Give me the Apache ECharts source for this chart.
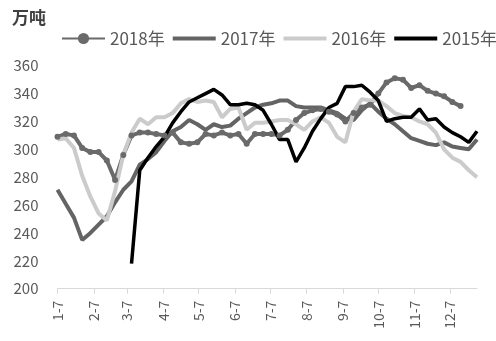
<!DOCTYPE html>
<html>
<head>
<meta charset="utf-8">
<script src="https://cdn.jsdelivr.net/npm/echarts@6/dist/echarts.min.js"></script>
<style>
html,body{margin:0;padding:0;background:#fff;}
#chart{width:496px;height:341px;}
</style>
</head>
<body>
<div id="chart"></div>
<script>
// Weekly readings, week 1 falls on 1-7 (day-of-year 7)
const seriesNames = ['2018年', '2017年', '2016年', '2015年'];
const unitLabel = '万吨';

const v2018 = [309, 311, 310, 301, 298, 298, 292, 278, 296, 310, 312, 312, 311, 310, 312, 305,
  304, 305, 311, 310, 312, 310, 311, 304, 311, 311, 311, 310, 314, 321, 326, 328,
  329, 327, 325, 320, 326, 330, 332, 340, 348, 351, 350, 344, 346, 342, 340, 338,
  334, 331, null, null];
const v2017 = [271, 261, 251, 235, 240, 246, 252, 262, 271, 277, 289, 293, 298, 306, 313, 316,
  321, 318, 314, 318, 316, 317, 322, 326, 330, 332, 333, 335, 335, 331, 330, 330,
  330, 328, 326, 322, 321, 328, 333, 327, 322, 318, 313, 308, 306, 304, 303, 305,
  302, 301, 300, 307];
const v2016 = [307, 308, 301, 281, 266, 254, 249, 270, 296, 312, 322, 318, 323, 323, 326, 333,
  336, 334, 335, 334, 323, 329, 330, 314, 319, 319, 320, 321, 321, 318, 314, 320,
  323, 319, 309, 305, 327, 336, 335, 335, 331, 326, 324, 323, 320, 318, 312, 300,
  294, 291, 285, 280];
const v2015 = [null, null, null, null, null, null, null, null, null, 218, 285, 294, 302, 309, 319, 327,
  334, 337, 340, 343, 339, 332, 332, 333, 332, 328, 318, 307, 307, 291, 301, 313,
  322, 330, 333, 345, 345, 346, 341, 335, 320, 322, 323, 323, 329, 321, 322, 316,
  312, 309, 305, 313];

// Month labels sit on the 7th of each month (day-of-year, non-leap)
const monthTickDays = [7, 38, 66, 97, 127, 158, 188, 219, 250, 280, 311, 341];
const monthTickLabels = ['1-7', '2-7', '3-7', '4-7', '5-7', '6-7', '7-7', '8-7', '9-7', '10-7', '11-7', '12-7'];

const yTicks = { min: 200, max: 360, step: 20 };

function toPoints(values) {
  return values.map((v, i) => [7 + 7 * i, v]);
}

const font = '"Noto Sans CJK SC", "Noto Sans", sans-serif';
const colors = ['#6a6a6a', '#646464', '#cbcbcb', '#000000'];
// plain bar used as the legend swatch for the unmarked lines
const barIcon = 'path://M0,0 L43,0 L43,4 L0,4 Z';

const chart = echarts.init(document.getElementById('chart'), null, { renderer: 'canvas' });

chart.setOption({
  animation: false,
  backgroundColor: '#ffffff',
  color: colors,
  title: {
    text: unitLabel,
    left: 7,
    top: 4,
    textStyle: { fontFamily: font, fontSize: 17, fontWeight: 'bold', color: '#3f3f3f' }
  },
  legend: {
    data: [
      { name: seriesNames[0] },
      { name: seriesNames[1], icon: barIcon },
      { name: seriesNames[2], icon: barIcon },
      { name: seriesNames[3], icon: barIcon }
    ],
    left: 56,
    top: 25,
    width: 460,
    itemWidth: 43,
    itemHeight: 14,
    itemGap: 8,
    textStyle: { fontFamily: font, fontSize: 17, color: '#595959' }
  },
  grid: { left: 57.5, right: 19, top: 65.7, bottom: 52.3 },
  xAxis: {
    type: 'value',
    min: 7,
    max: 364,
    splitLine: { show: false },
    axisLine: { show: true, lineStyle: { color: '#d9d9d9', width: 1 } },
    axisTick: { show: true, length: 5, lineStyle: { color: '#d9d9d9' }, customValues: monthTickDays },
    axisLabel: {
      customValues: monthTickDays,
      rotate: 90,
      margin: 12,
      fontFamily: font,
      fontSize: 14,
      color: '#595959',
      formatter: function (val) {
        const idx = monthTickDays.indexOf(val);
        return idx >= 0 ? monthTickLabels[idx] : '';
      }
    }
  },
  yAxis: {
    type: 'value',
    min: yTicks.min,
    max: yTicks.max,
    interval: yTicks.step,
    splitLine: { show: false },
    axisLine: { show: false },
    axisTick: { show: false },
    axisLabel: { fontFamily: font, fontSize: 15, color: '#595959', margin: 19 }
  },
  series: [
    {
      name: seriesNames[0], type: 'line', data: toPoints(v2018),
      symbol: 'circle', symbolSize: 6, showSymbol: true,
      lineStyle: { width: 4, color: colors[0] }, itemStyle: { color: colors[0] }
    },
    {
      name: seriesNames[1], type: 'line', data: toPoints(v2017),
      symbol: 'none', lineStyle: { width: 4, color: colors[1] }, itemStyle: { color: colors[1] }
    },
    {
      name: seriesNames[2], type: 'line', data: toPoints(v2016),
      symbol: 'none', lineStyle: { width: 4, color: colors[2] }, itemStyle: { color: colors[2] }
    },
    {
      name: seriesNames[3], type: 'line', data: toPoints(v2015),
      symbol: 'none', lineStyle: { width: 3.5, color: colors[3] }, itemStyle: { color: colors[3] }
    }
  ]
});
</script>
</body>
</html>
